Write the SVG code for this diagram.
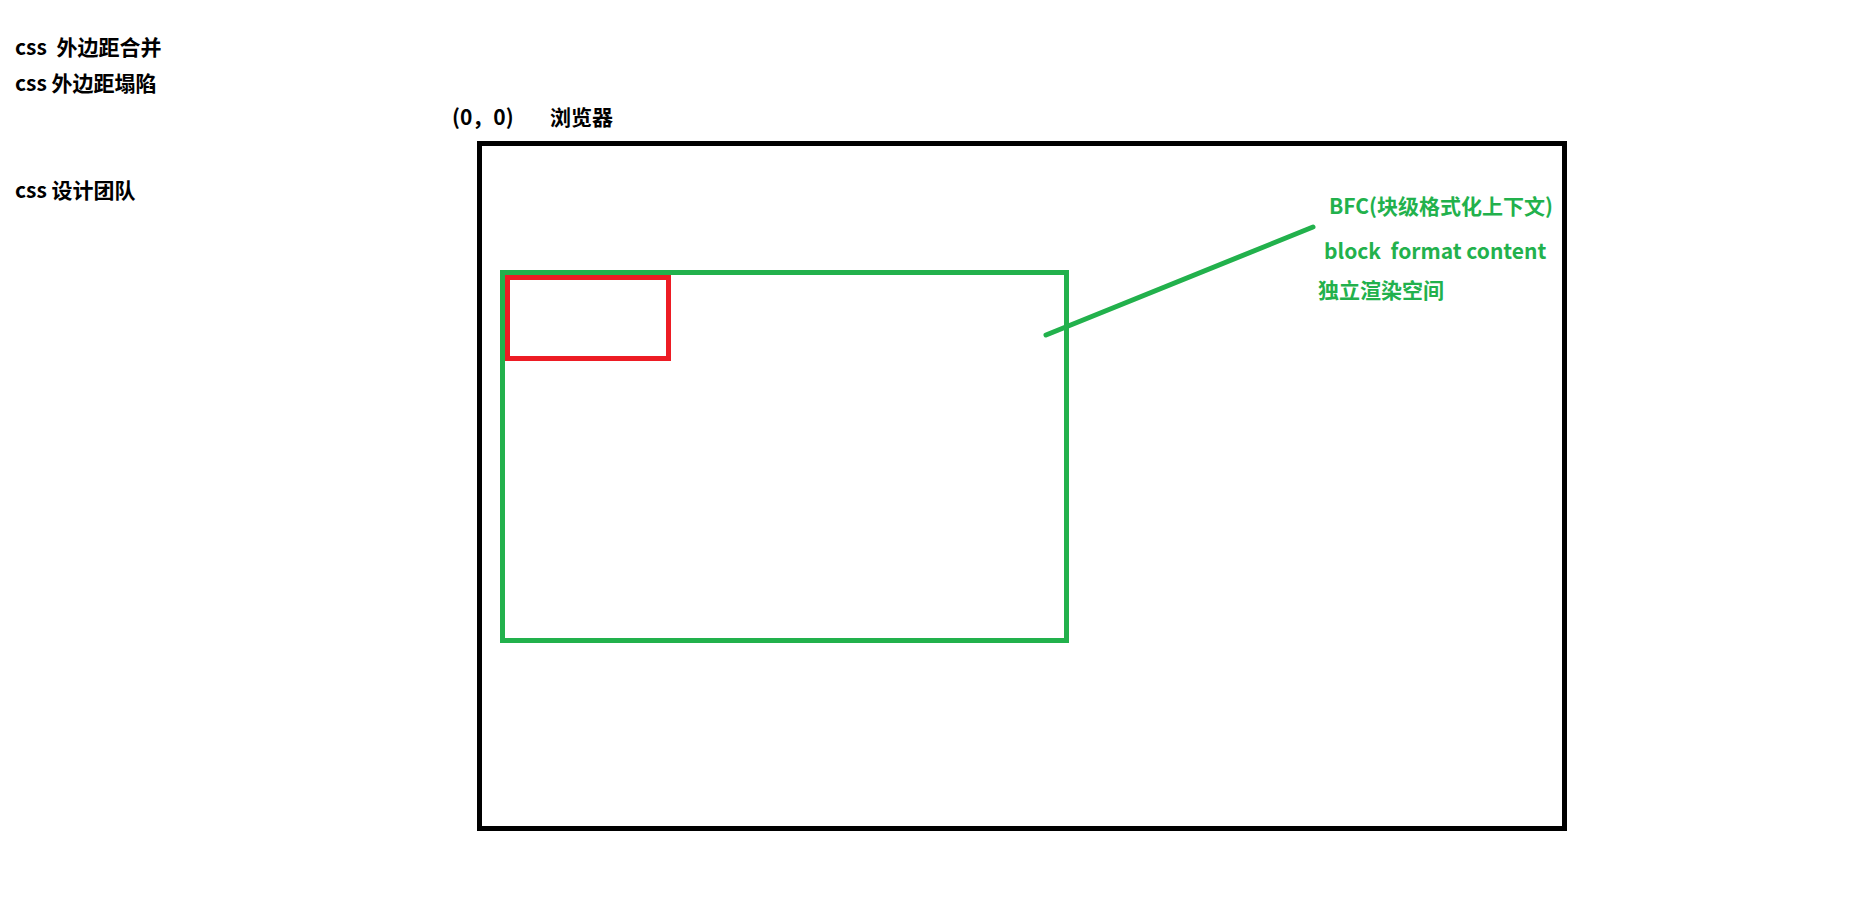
<svg xmlns="http://www.w3.org/2000/svg" width="1850" height="916" viewBox="0 0 1850 916">
<style>
.t{font-family:"Microsoft YaHei","Noto Sans CJK SC",sans-serif;font-weight:bold;font-size:21px;}
.k{fill:#000;}
.g{fill:#22b14c;}
.box{fill:none;stroke-width:5;}
</style>
<rect width="1850" height="916" fill="#fff"/>
<g id="labels">
<text class="t k" x="15" y="55" xml:space="preserve">css  外边距合并</text>
<text class="t k" x="15" y="91">css 外边距塌陷</text>
<text class="t k" x="15" y="198">css 设计团队</text>
<text class="t k" x="452" y="125">(0，0)</text>
<text class="t k" x="550" y="125">浏览器</text>
</g>
<g id="browser"><rect class="box" x="479.5" y="143.5" width="1085" height="685" stroke="#000"/></g>
<g id="bfc"><rect class="box" x="502.5" y="272.5" width="564" height="368" stroke="#22b14c"/></g>
<g id="inner"><rect class="box" x="507.5" y="277.5" width="161" height="81" stroke="#ed1c24"/></g>
<g id="connectors"><line x1="1046" y1="335" x2="1313" y2="227" stroke="#22b14c" stroke-width="5" stroke-linecap="round"/></g>
<g id="note">
<text class="t g" x="1329" y="214">BFC(块级格式化上下文)</text>
<text class="t g" x="1324" y="259" xml:space="preserve">block  format content</text>
<text class="t g" x="1318" y="298">独立渲染空间</text>
</g>
</svg>
